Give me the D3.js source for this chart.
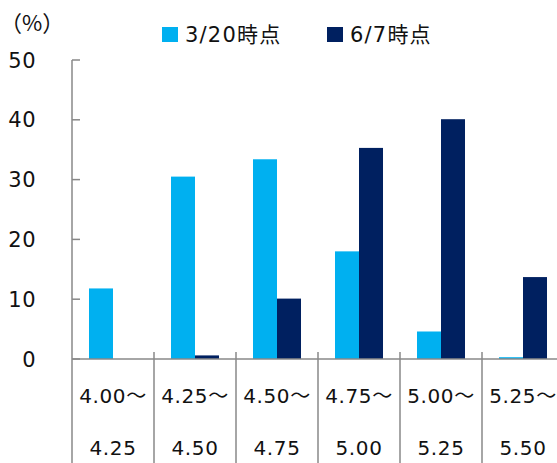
<!DOCTYPE html>
<html><head><meta charset="utf-8">
<script src="https://cdn.jsdelivr.net/npm/d3@7"></script>
<style>body{margin:0;background:#fff}svg{display:block}</style>
</head><body>
<svg id="c" width="557" height="463"></svg>
<script>
const catTop = ["4.00～","4.25～","4.50～","4.75～","5.00～","5.25～"];
const catBottom = ["4.25","4.50","4.75","5.00","5.25","5.50"];
const seriesNames = ["3/20時点","6/7時点"];
const seriesColors = ["#00B0F0","#002060"];
const march = [11.8,30.5,33.4,18.0,4.6,0.3];
const june = [0,0.6,10.1,35.3,40.1,13.7];
const yTicks = [0,10,20,30,40,50];

const svg = d3.select("#c");
const font = "'DejaVu Sans', 'Noto Sans CJK JP', sans-serif";
const x0 = 72, step = 82;
const x = d3.scaleBand().domain(d3.range(6)).range([x0, x0+step*6]).paddingInner(0).paddingOuter(0);
const xs = d3.scaleBand().domain([0,1]).range([0, x.bandwidth()]).paddingInner(0).paddingOuter(0.708);
const y = d3.scaleLinear().domain([0,50]).range([359,60]);

// y axis
svg.append("line").attr("x1",x0).attr("x2",x0).attr("y1",60).attr("y2",463).attr("stroke","#888").attr("stroke-width",1.5);
yTicks.forEach(t=>{
  svg.append("line").attr("x1",x0).attr("x2",x0+8).attr("y1",y(t)).attr("y2",y(t)).attr("stroke","#888").attr("stroke-width",1.5);
  svg.append("text").attr("x",36).attr("y",y(t)+7.5).attr("text-anchor","end").attr("font-family",font).attr("font-size",21).attr("letter-spacing",0.5).attr("fill","#111").text(t);
});

// bars
const data = [march, june];
data.forEach((vals,si)=>{
  svg.append("g").selectAll("rect").data(vals).join("rect")
    .attr("x",(d,i)=>x(i)+xs(si)).attr("width",xs.bandwidth())
    .attr("y",d=>y(d)).attr("height",d=>y(0)-y(d)).attr("fill",seriesColors[si]);
});

// x axis line
svg.append("line").attr("x1",x0).attr("x2",557).attr("y1",y(0)).attr("y2",y(0)).attr("stroke","#888").attr("stroke-width",1.5);
// dividers
for(let i=1;i<6;i++){
  const xx = x(i);
  svg.append("line").attr("x1",xx).attr("x2",xx).attr("y1",352).attr("y2",463).attr("stroke","#888").attr("stroke-width",1.5);
}
// category labels
catTop.forEach((t,i)=>{
  svg.append("text").attr("x",x(i)+step/2).attr("y",403).attr("text-anchor","middle").attr("font-family",font).attr("font-size",20).attr("letter-spacing",0.6).attr("fill","#111").text(t);
  svg.append("text").attr("x",x(i)+step/2).attr("y",455).attr("text-anchor","middle").attr("font-family",font).attr("font-size",20).attr("letter-spacing",0.6).attr("fill","#111").text(catBottom[i]);
});

// unit
svg.append("text").attr("x",0).attr("y",31).attr("font-family","'Noto Sans CJK JP', sans-serif").attr("font-size",22).attr("fill","#111").text("（%）");

// legend
const legX = [162,327];
seriesNames.forEach((n,i)=>{
  svg.append("rect").attr("x",legX[i]).attr("y",27).attr("width",16).attr("height",15).attr("fill",seriesColors[i]);
  svg.append("text").attr("x",legX[i]+23).attr("y",42).attr("font-family",font).attr("font-size",21).attr("letter-spacing",1.2).attr("fill","#111").text(n);
});
</script>
</body></html>
